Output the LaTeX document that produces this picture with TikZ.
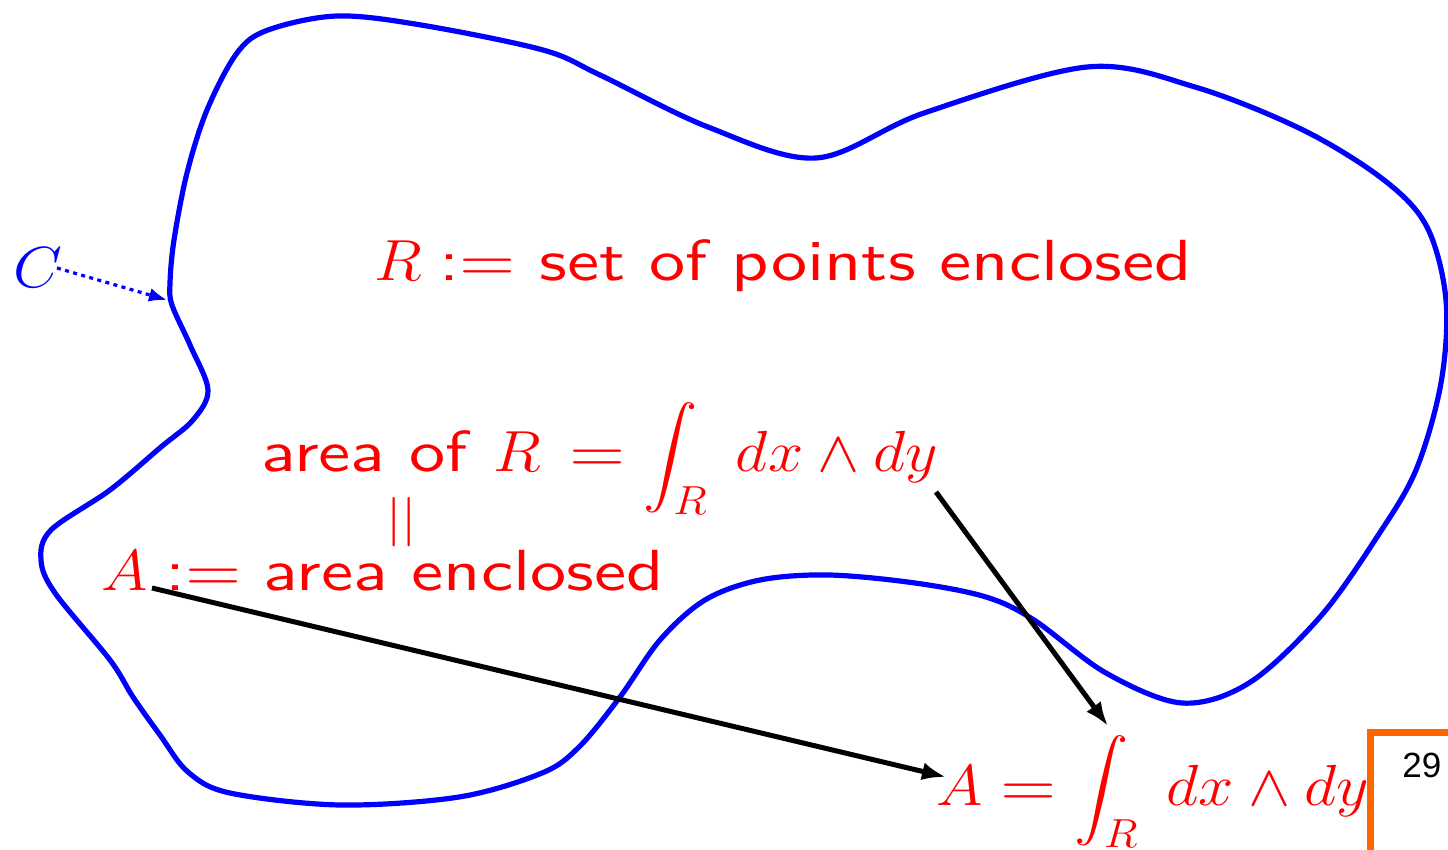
\RequirePackage{fix-cm}
\documentclass[tikz,border=0pt]{standalone}
\usepackage{amsmath}
\usepackage{fontspec}
\newfontfamily\helv{Liberation Sans}
\newfontfamily\lmsten{lmsans10-regular.otf}
\usetikzlibrary{arrows.meta}
\definecolor{myorange}{RGB}{255,102,0}
\newcommand{\tsx}[1]{\scalebox{1.245}[1]{#1}}
\newcommand{\msx}[1]{\scalebox{1.09}[1]{#1}}
% sans relation symbols inside the (already 1.09-scaled) math
\newcommand{\meq}{\mathrel{\text{\scalebox{1.142}[1]{=}}}}
\newcommand{\mcol}{\mathrel{\text{\scalebox{1.142}[1]{:}}}}
\begin{document}
\begin{tikzpicture}[x=0.5pt,y=-0.5pt,
  lbl/.style={anchor=base west, inner sep=0pt, text=red, font=\fontsize{29}{34}\selectfont\lmsten},
  blk/.style={draw=black, line width=2.5pt, -{Latex[length=12pt,width=9pt]}},
  curve/.style={draw=blue, line width=2.6pt},
]
\useasboundingbox (0,0) rectangle (1448,850);
\clip (0,0) rectangle (1448,850);

% closed curve C
\draw[curve] plot[smooth cycle, tension=0.55] coordinates {
 (170,283) (174,240) (187,173) (207,110) (237,53) (268,30) (337,16) (421,25)
 (543,50) (600,75) (708,127) (816,158) (924,113) (1087,67) (1195,87) (1303,130)
 (1384,180) (1427,227) (1446,300) (1441,383) (1416,470) (1377,537) (1320,617)
 (1249,683) (1182,703) (1106,673) (1034,620) (986,597) (915,583) (829,575)
 (760,580) (705,600) (660,640) (620,697) (579,747) (542,773) (459,797) (340,805)
 (230,793) (188,772) (160,735) (133,697) (110,660) (55,593) (41,560) (51,530) (110,490)
 (161,447) (193,420) (208,390) (190,345) (172,305)};

% labels
\node[lbl, text=blue] (clab) at (13,288) {\msx{$C$}};
\node[lbl] (rdef) at (374,281) {\msx{$R \mcol\meq$}\hspace{12pt}\tsx{set of points enclosed}};
\node[lbl] (areaR) at (261,472) {\tsx{area of}\hspace{13pt}\msx{$R \mkern3mu\meq \displaystyle\int_R\mkern5mu dx\wedge dy$}};
\node[lbl] (eqbars) at (386,535) {\scalebox{0.95}[0.85]{||}};
\node[lbl] (adef) at (101,590) {\msx{$A \mcol\meq$}\hspace{11pt}\tsx{area enclosed}};
\node[lbl] (aint) at (936,805) {\msx{$A \meq \displaystyle\int_R\mkern5mu dx\wedge dy$}};
\node[anchor=base west, inner sep=0pt, font=\fontsize{17.5}{20}\helv] (pnum) at (1402,777) {29};

% connector endpoints
\coordinate (cs) at (57,268);
\coordinate (ce) at (167,300);
\coordinate (a1s) at (152,588);
\coordinate (a1e) at (946,777);
\coordinate (a2s) at (936,492);
\coordinate (a2e) at (1108,726);

\draw[blue, line width=1.6pt, dash pattern=on 2pt off 2.2pt, -{Latex[length=9pt,width=7pt]}] (cs) -- (ce);
\draw[blk] (a1s) -- (a1e);
\draw[blk] (a2s) -- (a2e);

% page number frame
\coordinate (fb) at (1370,870);
\coordinate (fc) at (1370,732);
\coordinate (fr) at (1470,732);
\draw[myorange, line width=3.5pt] (fb) -- (fc) -- (fr);
\end{tikzpicture}
\end{document}
